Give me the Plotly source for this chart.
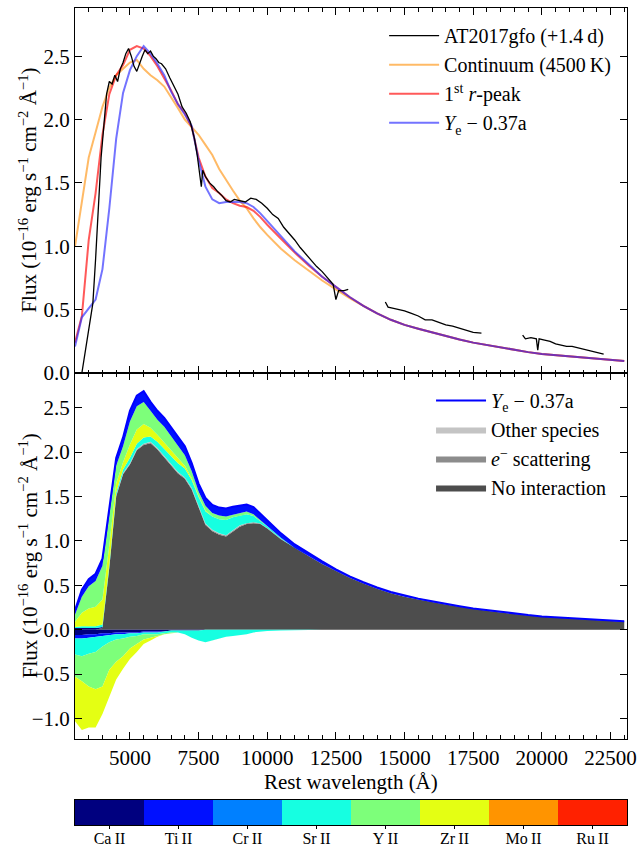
import plotly.graph_objects as go

# ---------------- data ----------------
W = [3000, 3250, 3500, 3750, 4000, 4250, 4500, 4750, 5000, 5250, 5500, 5750, 6000, 6250,
     6500, 6750, 7000, 7250, 7500, 7750, 8000, 8250, 8500, 8750, 9000, 9250, 9500, 9750,
     10000, 10500, 11000, 11500, 12000, 12500, 13000, 13500, 14000, 14500, 15000, 15500,
     16000, 16500, 17000, 17500, 18000, 18500, 19000, 19500, 20000, 20500, 21000, 21500,
     22000, 22500, 23000]

red_peak = [0.24, 0.45, 1.05, 1.42, 1.88, 2.2, 2.35, 2.43, 2.55, 2.58, 2.56, 2.5, 2.42, 2.33,
            2.23, 2.12, 2.05, 1.94, 1.7, 1.55, 1.46, 1.42, 1.37, 1.34, 1.32, 1.31, 1.28, 1.23,
            1.17, 1.06, 0.95, 0.85, 0.76, 0.68, 0.6, 0.53, 0.47, 0.42, 0.38, 0.35, 0.32, 0.29,
            0.265, 0.24, 0.22, 0.2, 0.18, 0.165, 0.15, 0.14, 0.13, 0.12, 0.11, 0.1, 0.095]
ye_model = [0.21, 0.44, 0.51, 0.58, 0.82, 1.3, 1.85, 2.21, 2.39, 2.5, 2.58, 2.52, 2.44, 2.35,
            2.22, 2.12, 2.04, 1.95, 1.68, 1.47, 1.37, 1.34, 1.35, 1.35, 1.35, 1.34, 1.31, 1.26,
            1.2, 1.08, 0.96, 0.86, 0.76, 0.68, 0.6, 0.53, 0.47, 0.42, 0.38, 0.35, 0.32, 0.29,
            0.265, 0.24, 0.22, 0.2, 0.18, 0.165, 0.15, 0.14, 0.13, 0.12, 0.11, 0.1, 0.095]
continuum = [1.0, 1.35, 1.7, 1.9, 2.1, 2.25, 2.35, 2.4, 2.45, 2.47, 2.4, 2.35, 2.31, 2.26,
             2.18, 2.09, 2.0, 1.94, 1.88, 1.8, 1.72, 1.61, 1.52, 1.44, 1.36, 1.3, 1.22, 1.15,
             1.09, 0.98, 0.89, 0.81, 0.73, 0.66, 0.59, 0.53, 0.47, 0.42, 0.38, 0.35, 0.32, 0.29,
             0.265, 0.24, 0.22, 0.2, 0.18, 0.165, 0.15, 0.14, 0.13, 0.12, 0.11, 0.1, 0.095]

# observed spectrum (three segments, separated by gaps)
obs_wave_1 = [3250, 3400, 3500, 3650, 3750, 3850, 3950, 4050, 4150, 4250, 4350, 4450, 4550,
              4650, 4750, 4850, 4950, 5050, 5150, 5250, 5350, 5450, 5550, 5650, 5750, 5850,
              5950, 6050, 6150, 6300, 6450, 6600, 6750, 6900, 7050, 7200, 7350, 7450, 7550,
              7600, 7650, 7750, 7900, 8050, 8200, 8350, 8500, 8650, 8800, 9000, 9200, 9400,
              9600, 9800, 10000, 10200, 10400, 10600, 10800, 11000, 11200, 11400, 11600,
              11800, 12000, 12200, 12400, 12500, 12600, 12800, 12950]
obs_flux_1 = [0.0, 0.2, 0.35, 0.55, 0.9, 1.3, 1.7, 1.95, 2.2, 2.3, 2.28, 2.35, 2.3, 2.4, 2.45,
              2.52, 2.56, 2.5, 2.42, 2.38, 2.45, 2.5, 2.55, 2.52, 2.54, 2.5, 2.48, 2.45, 2.44,
              2.4, 2.33, 2.26, 2.2, 2.1, 2.05, 1.98, 1.85, 1.72, 1.55, 1.47, 1.6, 1.55, 1.5,
              1.47, 1.43, 1.4, 1.36, 1.35, 1.37, 1.36, 1.35, 1.38, 1.37, 1.34, 1.3, 1.25, 1.22,
              1.15, 1.1, 1.05, 0.99, 0.94, 0.89, 0.84, 0.8, 0.75, 0.7, 0.58, 0.65, 0.65, 0.66]
obs_wave_2 = [14300, 14400, 14600, 14800, 15000, 15250, 15500, 15750, 16000, 16250, 16500,
              16750, 17000, 17250, 17500, 17800]
obs_flux_2 = [0.56, 0.52, 0.51, 0.5, 0.49, 0.47, 0.45, 0.42, 0.42, 0.4, 0.38, 0.37, 0.355,
              0.34, 0.32, 0.315]
obs_wave_3 = [19300, 19400, 19600, 19800, 19850, 19900, 20100, 20300, 20500, 20700, 20900,
              21100, 21300, 21500, 21700, 21900, 22100, 22250]
obs_flux_3 = [0.3, 0.27, 0.28, 0.27, 0.18, 0.27, 0.26, 0.25, 0.23, 0.22, 0.21, 0.21, 0.2,
              0.19, 0.18, 0.17, 0.16, 0.15]

# bottom panel: decomposition of the Ye-0.37a spectrum
no_interaction = [0.0, 0.0, 0.0, 0.0, 0.02, 0.7, 1.5, 1.75, 1.86, 2.02, 2.08, 2.1, 2.03, 1.94,
                  1.85, 1.76, 1.7, 1.58, 1.38, 1.18, 1.11, 1.07, 1.05, 1.1, 1.16, 1.19, 1.2,
                  1.19, 1.14, 1.02, 0.92, 0.83, 0.74, 0.66, 0.585, 0.52, 0.46, 0.41, 0.37,
                  0.34, 0.31, 0.285, 0.26, 0.235, 0.215, 0.195, 0.175, 0.16, 0.145, 0.135,
                  0.125, 0.115, 0.105, 0.095, 0.09]
e_scattering = [0.0, 0.0, 0.0, 0.0, 0.0, 0.005, 0.01, 0.01, 0.01, 0.01, 0.01, 0.01, 0.01, 0.01,
                0.01, 0.01, 0.01, 0.01, 0.01, 0.01, 0.01, 0.01, 0.01, 0.01, 0.01, 0.01, 0.01,
                0.005, 0.005, 0.005, 0.0, 0.0, 0.0, 0.0, 0.0, 0.0, 0.0, 0.0, 0.0, 0.0, 0.0,
                0.0, 0.0, 0.0, 0.0, 0.0, 0.0, 0.0, 0.0, 0.0, 0.0, 0.0, 0.0, 0.0, 0.0]
other_species = [0.0, 0.0, 0.0, 0.0, 0.0, 0.0, 0.005, 0.005, 0.005, 0.005, 0.005, 0.005, 0.005,
                 0.005, 0.005, 0.005, 0.005, 0.005, 0.005, 0.005, 0.005, 0.005, 0.005, 0.005,
                 0.005, 0.0, 0.0, 0.0, 0.0, 0.0, 0.0, 0.0, 0.0, 0.0, 0.0, 0.0, 0.0, 0.0, 0.0,
                 0.0, 0.0, 0.0, 0.0, 0.0, 0.0, 0.0, 0.0, 0.0, 0.0, 0.0, 0.0, 0.0, 0.0, 0.0, 0.0]

ca_emis = [0.02, 0.02, 0.02, 0.02, 0.01, 0.0, 0.0, 0.0, 0.0, 0.0, 0.0, 0.0, 0.0, 0.0, 0.0, 0.0,
           0.0, 0.0, 0.0, 0.0, 0.0, 0.0, 0.0, 0.0, 0.0, 0.0, 0.0, 0.0, 0.0, 0.0, 0.0, 0.0, 0.0,
           0.0, 0.0, 0.0, 0.0, 0.0, 0.0, 0.0, 0.0, 0.0, 0.0, 0.0, 0.0, 0.0, 0.0, 0.0, 0.0, 0.0,
           0.0, 0.0, 0.0, 0.0, 0.0]
sr_emis = [0.01, 0.02, 0.02, 0.02, 0.03, 0.03, 0.03, 0.04, 0.06, 0.06, 0.07, 0.06, 0.07, 0.08,
           0.09, 0.1, 0.1, 0.09, 0.1, 0.14, 0.15, 0.16, 0.17, 0.15, 0.11, 0.1, 0.07, 0.03, 0.02,
           0.01, 0.0, 0.0, 0.0, 0.0, 0.0, 0.0, 0.0, 0.0, 0.0, 0.0, 0.0, 0.0, 0.0, 0.0, 0.0, 0.0,
           0.0, 0.0, 0.0, 0.0, 0.0, 0.0, 0.0, 0.0, 0.0]
zr_emis = [0.06, 0.15, 0.2, 0.22, 0.28, 0.22, 0.1, 0.08, 0.15, 0.16, 0.15, 0.1, 0.08, 0.07,
           0.06, 0.05, 0.03, 0.02, 0.01, 0.01, 0.0, 0.0, 0.0, 0.0, 0.0, 0.0, 0.0, 0.0, 0.0, 0.0,
           0.0, 0.0, 0.0, 0.0, 0.0, 0.0, 0.0, 0.0, 0.0, 0.0, 0.0, 0.0, 0.0, 0.0, 0.0, 0.0, 0.0,
           0.0, 0.0, 0.0, 0.0, 0.0, 0.0, 0.0, 0.0]
y_emis = [0.08, 0.18, 0.25, 0.29, 0.38, 0.32, 0.2, 0.18, 0.26, 0.26, 0.25, 0.19, 0.17, 0.18,
          0.16, 0.15, 0.12, 0.08, 0.05, 0.05, 0.04, 0.04, 0.04, 0.03, 0.03, 0.03, 0.02, 0.01,
          0.0, 0.0, 0.0, 0.0, 0.0, 0.0, 0.0, 0.0, 0.0, 0.0, 0.0, 0.0, 0.0, 0.0, 0.0, 0.0, 0.0,
          0.0, 0.0, 0.0, 0.0, 0.0, 0.0, 0.0, 0.0, 0.0, 0.0]
ti_emis = [0.05, 0.08, 0.08, 0.08, 0.08, 0.08, 0.09, 0.1, 0.12, 0.12, 0.12, 0.1, 0.1, 0.1, 0.1,
           0.1, 0.1, 0.09, 0.09, 0.09, 0.09, 0.09, 0.09, 0.09, 0.08, 0.08, 0.08, 0.07, 0.06,
           0.05, 0.04, 0.03, 0.03, 0.02, 0.015, 0.015, 0.015, 0.015, 0.015, 0.01, 0.01, 0.005,
           0.005, 0.005, 0.005, 0.005, 0.005, 0.005, 0.005, 0.005, 0.005, 0.005, 0.005, 0.005,
           0.005]

ca_abs = [-0.06, -0.06, -0.05, -0.05, -0.04, -0.04, -0.03, -0.03, -0.03, -0.03, -0.02, -0.02,
          -0.02, -0.02, -0.01, -0.01, -0.01, -0.01, -0.01, 0.0, 0.0, 0.0, 0.0, 0.0, 0.0, 0.0,
          0.0, 0.0, 0.0, 0.0, 0.0, 0.0, 0.0, 0.0, 0.0, 0.0, 0.0, 0.0, 0.0, 0.0, 0.0, 0.0, 0.0,
          0.0, 0.0, 0.0, 0.0, 0.0, 0.0, 0.0, 0.0, 0.0, 0.0, 0.0, 0.0]
ti_abs = [-0.04, -0.04, -0.04, -0.03, -0.03, -0.02, -0.02, -0.02, -0.01, -0.01, -0.01, -0.01,
          -0.01, 0.0, 0.0, 0.0, 0.0, 0.0, 0.0, 0.0, 0.0, 0.0, 0.0, 0.0, 0.0, 0.0, 0.0, 0.0,
          0.0, 0.0, 0.0, 0.0, 0.0, 0.0, 0.0, 0.0, 0.0, 0.0, 0.0, 0.0, 0.0, 0.0, 0.0, 0.0, 0.0,
          0.0, 0.0, 0.0, 0.0, 0.0, 0.0, 0.0, 0.0, 0.0, 0.0]
sr_abs = [-0.18, -0.2, -0.18, -0.17, -0.12, -0.08, -0.06, -0.05, -0.04, -0.03, -0.02, -0.02,
          -0.02, -0.02, -0.02, -0.02, -0.04, -0.08, -0.11, -0.14, -0.12, -0.1, -0.08, -0.07,
          -0.06, -0.05, -0.03, -0.02, -0.015, -0.01, -0.005, 0.0, 0.0, 0.0, 0.0, 0.0, 0.0, 0.0,
          0.0, 0.0, 0.0, 0.0, 0.0, 0.0, 0.0, 0.0, 0.0, 0.0, 0.0, 0.0, 0.0, 0.0, 0.0, 0.0, 0.0]
y_abs = [-0.25, -0.28, -0.37, -0.42, -0.45, -0.31, -0.25, -0.2, -0.13, -0.09, -0.06, -0.04,
         -0.02, -0.01, -0.01, 0.0, 0.0, 0.0, 0.0, 0.0, 0.0, 0.0, 0.0, 0.0, 0.0, 0.0, 0.0, 0.0,
         0.0, 0.0, 0.0, 0.0, 0.0, 0.0, 0.0, 0.0, 0.0, 0.0, 0.0, 0.0, 0.0, 0.0, 0.0, 0.0, 0.0,
         0.0, 0.0, 0.0, 0.0, 0.0, 0.0, 0.0, 0.0, 0.0, 0.0]
zr_abs = [-0.5, -0.55, -0.46, -0.43, -0.31, -0.3, -0.2, -0.14, -0.12, -0.09, -0.05, -0.03,
          -0.01, 0.0, 0.0, 0.0, 0.0, 0.0, 0.0, 0.0, 0.0, 0.0, 0.0, 0.0, 0.0, 0.0, 0.0, 0.0,
          0.0, 0.0, 0.0, 0.0, 0.0, 0.0, 0.0, 0.0, 0.0, 0.0, 0.0, 0.0, 0.0, 0.0, 0.0, 0.0, 0.0,
          0.0, 0.0, 0.0, 0.0, 0.0, 0.0, 0.0, 0.0, 0.0, 0.0]

species = ["Ca\u2009II", "Ti\u2009II", "Cr\u2009II", "Sr\u2009II", "Y\u2009II", "Zr\u2009II",
           "Mo\u2009II", "Ru\u2009II"]
species_colors = ["#00007f", "#0010ff", "#0080ff", "#16ffe1", "#7dff7a", "#e4ff13",
                  "#ff9400", "#ff2100"]

# ---------------- figure ----------------
FONT = "Liberation Serif"
fig = go.Figure()

# top panel
fig.add_trace(go.Scatter(x=W, y=continuum, mode="lines", name="Continuum (4500\u2009K)",
                         line=dict(color="rgba(255,140,0,0.6)", width=2), legendrank=2,
                         xaxis="x", yaxis="y"))
fig.add_trace(go.Scatter(x=W, y=red_peak, mode="lines", name="1<sup>st</sup> <i>r</i>-peak",
                         line=dict(color="rgba(255,0,0,0.65)", width=2), legendrank=3,
                         xaxis="x", yaxis="y"))
fig.add_trace(go.Scatter(x=W, y=ye_model, mode="lines", name="<i>Y</i><sub>e</sub> \u2212 0.37a",
                         line=dict(color="rgba(40,40,255,0.65)", width=2), legendrank=4,
                         xaxis="x", yaxis="y"))
obs_x = obs_wave_1 + [None] + obs_wave_2 + [None] + obs_wave_3
obs_y = obs_flux_1 + [None] + obs_flux_2 + [None] + obs_flux_3
fig.add_trace(go.Scatter(x=obs_x, y=obs_y, mode="lines", name="AT2017gfo (+1.4\u2009d)",
                         line=dict(color="black", width=1.3), connectgaps=False, legendrank=1,
                         xaxis="x", yaxis="y"))

# bottom panel: emission stack
def emis(y, color, name, show=False, rank=None, legend="legend2"):
    return go.Scatter(x=W, y=y, mode="lines", stackgroup="emis", name=name,
                      line=dict(width=0, color=color), fillcolor=color, showlegend=show,
                      legendrank=rank if rank else 1000, legend=legend,
                      xaxis="x2", yaxis="y2")

fig.add_trace(emis(no_interaction, "#4d4d4d", "No interaction", True, 4))
fig.add_trace(emis(e_scattering, "#8c8c8c", "<i>e</i><sup>\u2212</sup> scattering", True, 3))
fig.add_trace(emis(other_species, "#c4c4c4", "Other species", True, 2))
fig.add_trace(emis(ca_emis, species_colors[0], species[0]))
fig.add_trace(emis(sr_emis, species_colors[3], species[3]))
fig.add_trace(emis(zr_emis, species_colors[5], species[5]))
fig.add_trace(emis(y_emis, species_colors[4], species[4]))
fig.add_trace(emis(ti_emis, species_colors[1], species[1]))

# absorption stack
for arr, k in [(ca_abs, 0), (ti_abs, 1), (sr_abs, 3), (y_abs, 4), (zr_abs, 5)]:
    fig.add_trace(go.Scatter(x=W, y=arr, mode="lines", stackgroup="abs", name=species[k],
                             line=dict(width=0, color=species_colors[k]),
                             fillcolor=species_colors[k], showlegend=False,
                             xaxis="x2", yaxis="y2"))

# total spectrum line
total = [sum(v) for v in zip(no_interaction, e_scattering, other_species, ca_emis, sr_emis,
                             zr_emis, y_emis, ti_emis)]
fig.add_trace(go.Scatter(x=W, y=total, mode="lines", name="<i>Y</i><sub>e</sub> \u2212 0.37a",
                         line=dict(color="#0000ff", width=2), legend="legend2", legendrank=1,
                         xaxis="x2", yaxis="y2"))

# species colour bar
fig.add_trace(go.Heatmap(z=[list(range(len(species)))], x=list(range(len(species))), y=[0],
                         colorscale=[[k / 7, c] for k, c in enumerate(species_colors)],
                         zmin=0, zmax=7, showscale=False, xaxis="x3", yaxis="y3",
                         hoverinfo="skip"))

axis_common = dict(showline=True, linecolor="black", linewidth=1, mirror="allticks",
                   ticks="inside", ticklen=7, tickwidth=1, tickcolor="black",
                   showgrid=False, zeroline=False, automargin=False,
                   tickfont=dict(family=FONT, size=21))
xminor = dict(dtick=500, tick0=0, ticks="inside", ticklen=3.5, tickcolor="black",
              showgrid=False)

# plot area: y pixels 8 .. 825 (817 px)
fig.update_layout(
    width=640, height=849,
    margin=dict(l=75, r=13, t=8, b=24),
    paper_bgcolor="white", plot_bgcolor="white",
    font=dict(family=FONT, size=20, color="black"),
    xaxis=dict(axis_common, domain=[0, 1], anchor="y", range=[3000, 23100], dtick=2500,
               tick0=0, showticklabels=False, minor=xminor, matches="x2"),
    yaxis=dict(axis_common, domain=[0.5532, 1], anchor="x", range=[0, 2.88], dtick=0.5,
               tick0=0, tickformat=".1f"),
    xaxis2=dict(axis_common, domain=[0, 1], anchor="y2", range=[3000, 23100], dtick=2500,
                tick0=0, tickformat="d", minor=xminor),
    yaxis2=dict(axis_common, domain=[0.1053, 0.5532], anchor="x2", range=[-1.23, 2.89],
                dtick=0.5, tick0=0, tickformat=".1f"),
    xaxis3=dict(domain=[0, 1], anchor="y3", range=[-0.5, 7.5], showline=True,
                linecolor="black", mirror=True, tickvals=list(range(8)), ticktext=species,
                ticks="outside", ticklen=3, tickcolor="black", showgrid=False, zeroline=False,
                automargin=False, ticklabelstandoff=-4, tickfont=dict(family=FONT, size=16)),
    yaxis3=dict(domain=[0, 0.0306], anchor="x3", range=[-0.5, 0.5], showline=True,
                linecolor="black", mirror=True, showticklabels=False, ticks="",
                showgrid=False, zeroline=False, automargin=False),
    legend=dict(x=0.56, y=0.99, xanchor="left", yanchor="top", bgcolor="rgba(0,0,0,0)",
                font=dict(family=FONT, size=20), itemwidth=50, tracegroupgap=0,
                traceorder="normal"),
    legend2=dict(x=0.645, y=0.5435, xanchor="left", yanchor="top", bgcolor="rgba(0,0,0,0)",
                 font=dict(family=FONT, size=20), itemwidth=50, tracegroupgap=0,
                 traceorder="normal"),
    showlegend=True,
)

ytitle = "Flux (10<sup>\u221216</sup> erg s<sup>\u22121</sup> cm<sup>\u22122</sup> \u00c5<sup>\u22121</sup>)"
fig.add_annotation(text=ytitle, xref="paper", yref="paper", x=-0.085, y=0.7766,
                   xanchor="center", yanchor="middle", textangle=-90, showarrow=False,
                   font=dict(family=FONT, size=21))
fig.add_annotation(text=ytitle, xref="paper", yref="paper", x=-0.085, y=0.329,
                   xanchor="center", yanchor="middle", textangle=-90, showarrow=False,
                   font=dict(family=FONT, size=21))
fig.add_annotation(text="Rest wavelength (\u00c5)", xref="paper", yref="paper", x=0.5,
                   y=0.0526, xanchor="center", yanchor="middle", showarrow=False,
                   font=dict(family=FONT, size=21))

fig.write_html("out.html")
